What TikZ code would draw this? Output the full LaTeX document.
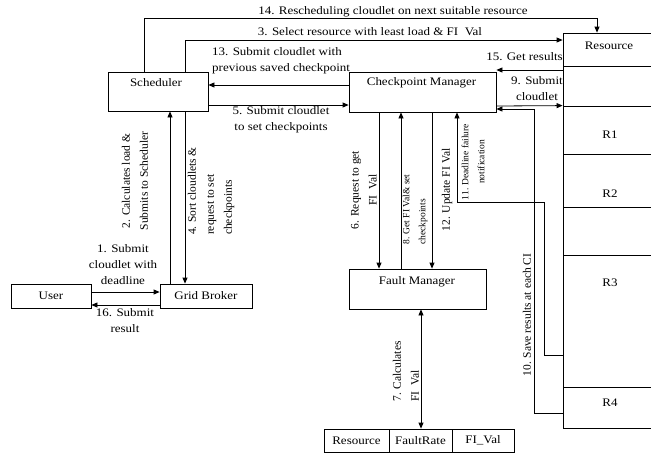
\documentclass[tikz,border=0pt]{standalone}
\usepackage{fontspec}
\setmainfont{Liberation Serif}[FakeStretch=1.13]
\newfontfamily\rotf{Liberation Serif}
\usetikzlibrary{arrows.meta}
\begin{document}
\begin{tikzpicture}[x=1pt,y=-1pt,
  box/.style={draw=black, line width=0.8pt, inner sep=0pt, font=\fontsize{11.5}{14}\selectfont},
  rowbox/.style={draw=black, line width=0.8pt, inner sep=0pt, minimum width=94pt},
  lbl/.style={inner sep=0pt, align=center, font=\fontsize{11.5}{16}\selectfont},
  rlbl/.style={inner sep=0pt, align=center, rotate=90, font=\rotf\fontsize{11.5}{18}\selectfont},
  srlbl/.style={rlbl, font=\rotf\fontsize{9.5}{16}\selectfont},
  arr/.style={draw=black, line width=0.8pt, -{Triangle[length=6pt,width=5pt]}},
  arrb/.style={draw=black, line width=0.8pt, {Triangle[length=6pt,width=5pt]}-{Triangle[length=6pt,width=5pt]}}]
\useasboundingbox (0,0) rectangle (651,456);

% main boxes
\node[box, minimum width=100pt, minimum height=39pt] (sch) at (158,91.5) {};
\node[lbl] (schT) at (156,83) {Scheduler};
\node[box, minimum width=147pt, minimum height=40pt] (cpm) at (422.5,92) {};
\node[lbl] (cpmT) at (421.5,83) {Checkpoint Manager};
\node[box, minimum width=137pt, minimum height=40pt] (fm) at (417.5,289) {};
\node[lbl] (fmT) at (417,282) {Fault Manager};
\node[box, minimum width=80pt, minimum height=24pt] (user) at (51,296) {User};
\node[box, minimum width=92pt, minimum height=24pt] (gb) at (206,296) {Grid Broker};

% fault table
\node[box, minimum width=65pt, minimum height=23pt] (tRes) at (356.5,440.5) {Resource};
\node[box, minimum width=63pt, minimum height=23pt] (tFR) at (420.5,440.5) {FaultRate};
\node[box, minimum width=62pt, minimum height=23pt] (tFI) at (483,440.5) {FI\_Val};

% resource table
\node[rowbox, minimum height=33pt] (rRes) at (610,49.5) {};
\node[rowbox, minimum height=40pt] (rB1) at (610,86) {};
\node[rowbox, minimum height=48pt] (rR1) at (610,130) {};
\node[rowbox, minimum height=53pt] (rR2) at (610,180.5) {};
\node[rowbox, minimum height=48pt] (rB2) at (610,231) {};
\node[rowbox, minimum height=132pt] (rR3) at (610,321) {};
\node[rowbox, minimum height=41pt] (rR4) at (610,407.5) {};
\node[lbl] (rResT) at (609,46) {Resource};
\node[lbl] (rR1T) at (610,135) {R1};
\node[lbl] (rR2T) at (610,194) {R2};
\node[lbl] (rR3T) at (610,283) {R3};
\node[lbl] (rR4T) at (610,403) {R4};

% connectors
\draw[arr] (user.east |- 0,292) -- (gb.west |- 0,292);
\draw[arr] (gb.west |- 0,305) -- (user.east |- 0,305);
\draw[arr] (gb.north -| 170,0) -- (sch.south -| 170,0);
\draw[arr] (sch.south -| 185,0) -- (gb.north -| 185,0);
\draw[arr] (sch.north -| 144,0) |- (597,18) -- (rRes.north -| 597,0);
\draw[arr] (sch.north -| 185,0) |- (rRes.west |- 0,40);
\draw[arr] (cpm.west |- 0,85) -- (sch.east |- 0,85);
\draw[arr] (sch.east |- 0,105) -- (cpm.west |- 0,105);
\draw[arr] (rB1.west |- 0,70) -- (cpm.east |- 0,70);
\draw[arr] (cpm.east |- 0,106) -- (rR1.north west);
\draw[arr] (rR4.west |- 0,413) -| (534,109) -- (cpm.east |- 0,109);
\draw[arr] (rR3.west |- 0,355) -| (544,202) -| (cpm.south -| 457,0);
\draw[arr] (cpm.south -| 379,0) -- (fm.north -| 379,0);
\draw[arr] (fm.north -| 401,0) -- (cpm.south -| 401,0);
\draw[arr] (cpm.south -| 432,0) -- (fm.north -| 432,0);
\draw[arrb] (fm.south -| 421,0) -- (tFR.north -| 421,0);

% labels
\node[lbl] (l14) at (393,12) {14. Rescheduling cloudlet on next suitable resource};
\node[lbl] (l3) at (370,32) {3. Select resource with least load \& FI~~Val};
\node[lbl, align=left, anchor=west] (l13) at (212,60.5) {13. Submit cloudlet with\\previous saved checkpoint};
\node[lbl] (l5) at (281,119.5) {5. Submit cloudlet\\to set checkpoints};
\node[lbl, anchor=east] (l15) at (563,57) {15. Get results};
\node[lbl] (l9) at (537,89) {9. Submit\\cloudlet};
\node[lbl] (l1) at (123,265) {1. Submit\\cloudlet with\\deadline};
\node[lbl] (l16) at (125,321) {16. Submit\\result};
\node[rlbl] (l2) at (135,181) {2. Calculates load \&\\Submits to Scheduler};
\node[rlbl, align=left] (l4) at (211,191) {4. Sort cloudlets \&\\request to set\\checkpoints};
\node[rlbl] (l6) at (364,190) {6. Request to get\\FI~~Val};
\node[srlbl, align=left] (l8) at (415,209.5) {8. Get FI Val\& set\\checkpoints};
\node[rlbl] (l12) at (447,190) {12. Update FI Val};
\node[srlbl] (l11) at (473,162) {11. Deadline failure\\notification};
\node[rlbl] (l10) at (527,315) {10. Save results at each CI};
\node[rlbl, align=left] (l7) at (406,371.5) {7. Calculates\\FI~~Val};
\end{tikzpicture}
\end{document}
